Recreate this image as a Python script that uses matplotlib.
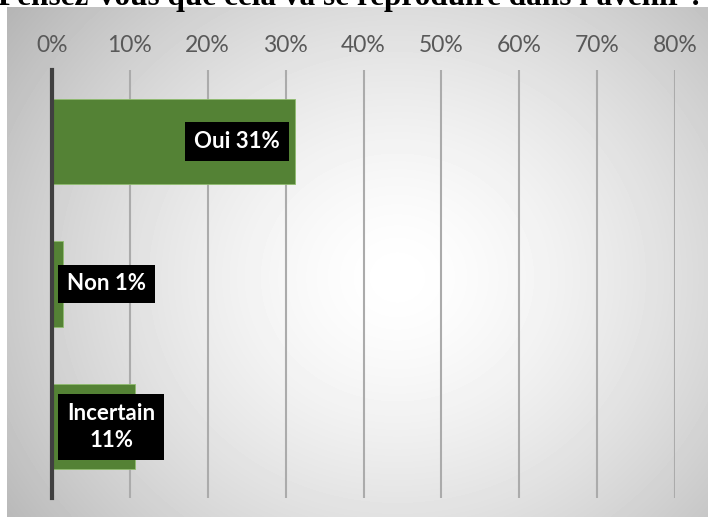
import numpy as np
import matplotlib.pyplot as plt

# data
categories = ['Oui', 'Non', 'Incertain']
values = [0.312, 0.014, 0.106]
label_text = ['Oui 31%', 'Non 1%', 'Incertain\n11%']
x_ticks = [0, 0.1, 0.2, 0.3, 0.4, 0.5, 0.6, 0.7, 0.8]
x_tick_labels = ['0%', '10%', '20%', '30%', '40%', '50%', '60%', '70%', '80%']
title = "Pensez-vous que cela va se reproduire dans l'avenir ?"

W, H = 710, 521
fig = plt.figure(figsize=(W / 100, H / 100), dpi=100)

# radial grey background of the chart area
bg = fig.add_axes([7 / W, 1 - 517 / H, 701 / W, 510 / H], zorder=0)
yy, xx = np.mgrid[0:510, 0:701]
r = np.hypot((xx - 390) / 430, (yy - 270) / 390)
shade = 1.0 - 0.24 * np.clip(r, 0, 1.3) ** 1.5
bg.imshow(shade, cmap='gray', vmin=0, vmax=1, aspect='auto', interpolation='bilinear')
bg.set_axis_off()

ax = fig.add_axes([52 / W, 1 - 498 / H, 623 / W, 428 / H], zorder=1)
ax.patch.set_alpha(0)

ypos = np.arange(len(categories))
ax.barh(ypos, values, height=0.6, color='#548235', edgecolor='#8fbc6e', linewidth=0.6, zorder=3)

ax.set_xlim(0, 0.8)
ax.set_ylim(len(categories) - 0.5, -0.5)
ax.xaxis.tick_top()
ax.set_xticks(x_ticks)
ax.set_xticklabels(x_tick_labels, fontsize=16.5, color='#595959', family='Lato')
ax.tick_params(axis='x', length=0, pad=10)
ax.tick_params(axis='y', left=False, labelleft=False)
ax.grid(axis='x', color='#ababab', linewidth=1.5, zorder=1)
for s in ['top', 'right', 'bottom']:
    ax.spines[s].set_visible(False)
ax.spines['left'].set_color('#404040')
ax.spines['left'].set_linewidth(3)
ax.spines['left'].set_zorder(4)

box = dict(boxstyle='square,pad=0.4', facecolor='black', edgecolor='none')
for i, (v, t) in enumerate(zip(values, label_text)):
    if v > 0.2:
        ax.annotate(t, (v, i), xytext=(-11, 0), textcoords='offset points',
                    ha='right', va='center', color='white', fontsize=16,
                    fontweight='bold', family='Lato', bbox=box, zorder=5)
    else:
        ax.annotate(t, (0, i), xytext=(11, 0), textcoords='offset points',
                    ha='left', va='center', color='white', fontsize=16,
                    fontweight='bold', family='Lato', multialignment='center',
                    linespacing=1.35, bbox=box, zorder=5)

# title, cut at the top edge as in the source image
fig.text(-0.003, 1 - 5 / H, title, ha='left', va='baseline', fontsize=22.5,
         fontweight='bold', family='Liberation Serif', color='black')

fig.savefig('out.png', dpi=100)
